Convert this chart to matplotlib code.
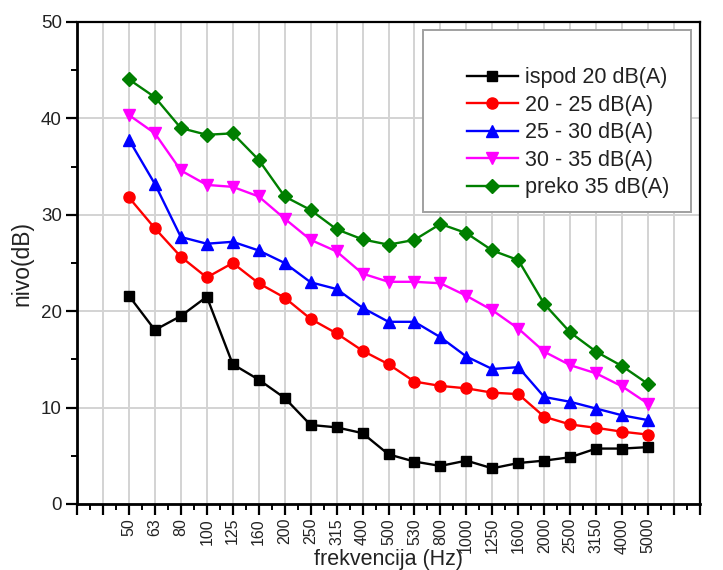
import matplotlib
matplotlib.use("Agg")
import matplotlib.pyplot as plt
from matplotlib.patches import Rectangle
import numpy as np

plt.rcParams['font.family'] = ['Liberation Sans', 'DejaVu Sans']

freq_labels = ["50", "63", "80", "100", "125", "160", "200", "250", "315", "400",
               "500", "530", "800", "1000", "1250", "1600", "2000", "2500", "3150",
               "4000", "5000"]

ispod_20 = [21.6, 18.05, 19.5, 21.5, 14.5, 12.9, 11.0, 8.2, 7.95, 7.35,
            5.15, 4.4, 3.95, 4.5, 3.7, 4.25, 4.5, 4.85, 5.75, 5.75, 5.9]
r20_25 = [31.8, 28.6, 25.65, 23.5, 25.0, 22.9, 21.4, 19.2, 17.7, 15.9,
          14.5, 12.7, 12.25, 12.0, 11.55, 11.4, 9.05, 8.25, 7.9, 7.5, 7.2]
r25_30 = [37.8, 33.2, 27.7, 27.0, 27.2, 26.3, 25.0, 23.0, 22.3, 20.35,
          18.9, 18.9, 17.3, 15.3, 14.0, 14.2, 11.1, 10.6, 9.9, 9.2, 8.7]
r30_35 = [40.35, 38.45, 34.6, 33.1, 32.9, 31.9, 29.6, 27.4, 26.2, 23.9,
          23.05, 23.05, 22.9, 21.6, 20.1, 18.2, 15.8, 14.4, 13.55, 12.2, 10.4]
preko_35 = [44.05, 42.2, 39.0, 38.3, 38.45, 35.7, 31.9, 30.5, 28.5, 27.45,
            26.9, 27.4, 29.05, 28.1, 26.3, 25.3, 20.75, 17.8, 15.8, 14.3, 12.45]

series_labels = ["ispod 20 dB(A)", "20 - 25 dB(A)", "25 - 30 dB(A)",
                 "30 - 35 dB(A)", "preko 35 dB(A)"]
series_values = [ispod_20, r20_25, r25_30, r30_35, preko_35]
colors = ["#000000", "#ff0000", "#0000ff", "#ff00ff", "#007f00"]
markers = ["s", "o", "^", "v", "D"]
msizes = [7.5, 8, 8.5, 8.5, 7]

fig = plt.figure(figsize=(7.23, 5.70), dpi=100)
ax = fig.add_axes([77/723, 1-504/570, 623/723, 482/570])

x = np.arange(len(freq_labels))
for vals, lab, c, m, ms in zip(series_values, series_labels, colors, markers, msizes):
    ax.plot(x, vals, color=c, marker=m, markersize=ms, linewidth=1.7,
            label=lab, zorder=3)

ax.set_xlim(-2, 22)
ax.set_ylim(0, 50)

major_x = np.arange(-2, 23)
ax.set_xticks(major_x)
ax.set_xticklabels([freq_labels[int(i)] if 0 <= i < len(freq_labels) else "" for i in major_x],
                   rotation=90, fontsize=11.5)
ax.set_xticks(np.arange(-1.5, 22, 1.0), minor=True)
ax.set_yticks([0, 10, 20, 30, 40, 50])
ax.set_yticks([5, 15, 25, 35, 45], minor=True)
ax.tick_params(axis='y', labelsize=13.5, pad=3)
ax.tick_params(axis='x', pad=2)

ax.tick_params(which='major', direction='out', length=8, width=1.6, colors='black')
ax.tick_params(which='minor', direction='out', length=4.5, width=1.4)
ax.tick_params(axis='x', which='both', top=False, labelcolor='#222222')
ax.tick_params(axis='y', which='both', right=False, labelcolor='#222222')

ax.grid(True, which='major', color='#d3d3d3', linewidth=1.4, zorder=0)
ax.set_axisbelow(True)

for s in ['left', 'bottom']:
    ax.spines[s].set_linewidth(2.0)
for s in ['top', 'right']:
    ax.spines[s].set_linewidth(1.6)

ax.set_xlabel("frekvencija (Hz)", fontsize=15.5, color='#222222')
ax.xaxis.set_label_coords(0.5, -0.094)
ax.set_ylabel("nivo(dB)", fontsize=16.5, labelpad=5, color='#222222')

rect = Rectangle((0.555, 0.606), 0.4305, 0.377, transform=ax.transAxes,
                 facecolor='white', edgecolor='#a0a0a0', linewidth=1.4, zorder=4)
ax.add_patch(rect)
leg = ax.legend(loc='upper left', bbox_to_anchor=(0.626, 0.906), frameon=False,
                fontsize=15.5, handlelength=2.35, handletextpad=0.35,
                labelspacing=0.3, borderpad=0, borderaxespad=0)
leg.set_zorder(5)
for t in leg.get_texts():
    t.set_color('#222222')

fig.savefig("out.png", dpi=100)
